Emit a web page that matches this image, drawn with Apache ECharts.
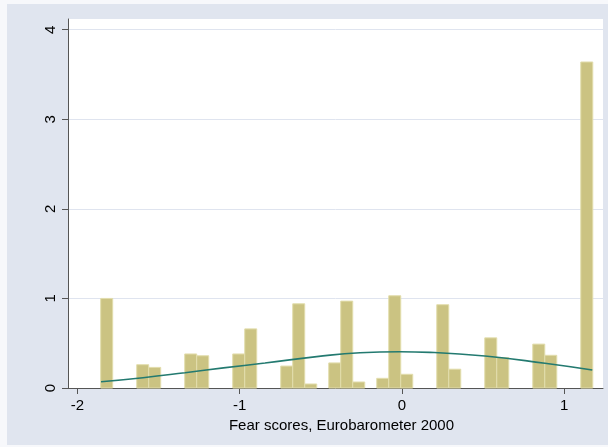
<!DOCTYPE html>
<html>
<head>
<meta charset="utf-8">
<script src="https://cdn.jsdelivr.net/npm/echarts@6/dist/echarts.min.js"></script>
<style>
  body { margin: 0; background: #f7f8fb; }
  #hist { position: absolute; left: 7px; top: 4px; width: 601px; height: 441px; }
</style>
</head>
<body>
<div id="hist"></div>
<script>
// histogram bins (centre of bin, density)
let binWidth = 0.074
let binCenters = [-1.820, -1.598, -1.524, -1.302, -1.228, -1.006, -0.932, -0.710, -0.636, -0.562,
    -0.414, -0.340, -0.266, -0.118, -0.044, 0.030, 0.252, 0.326, 0.548, 0.622, 0.844, 0.918, 1.140]
let densities = [1.00, 0.26, 0.23, 0.38, 0.36, 0.38, 0.66, 0.245, 0.94, 0.045,
    0.28, 0.97, 0.067, 0.108, 1.03, 0.153, 0.93, 0.21, 0.56, 0.34, 0.49, 0.365, 3.64]

// normal density overlay
let curveX = [-1.855, -1.596, -1.337, -1.1, -0.844, -0.525, -0.258, -0.012, 0.173, 0.512, 0.882, 1.174]
let curveY = [0.070, 0.115, 0.171, 0.225, 0.279, 0.350, 0.394, 0.405, 0.398, 0.357, 0.276, 0.201]

let xTicks = [-2, -1, 0, 1]
let yTicks = [0, 1, 2, 3, 4]

let barData = []
for (let i = 0; i < binCenters.length; i++) {
    barData.push([binCenters[i], densities[i]])
}
let lineData = []
for (let i = 0; i < curveX.length; i++) {
    lineData.push([curveX[i], curveY[i]])
}

let chart = echarts.init(document.querySelector('#hist'))
let font = 'Liberation Sans, Arial, Helvetica, sans-serif'
let option = {
    backgroundColor: '#e0e5ef',
    animation: false,
    grid: {
        left: 61, top: 15, right: 5, bottom: 57,
        show: true, backgroundColor: '#ffffff', borderWidth: 0
    },
    xAxis: {
        type: 'value',
        min: -2.0586,
        max: 1.24,
        name: 'Fear scores, Eurobarometer 2000',
        nameLocation: 'middle',
        nameGap: 29,
        nameTextStyle: { fontFamily: font, fontSize: 15, color: '#000', padding: [0, 0, 0, 12] },
        axisLine: { onZero: false, lineStyle: { color: '#555', width: 1 } },
        axisTick: { show: true, length: 6, customValues: xTicks, lineStyle: { color: '#555' } },
        axisLabel: { customValues: xTicks, fontFamily: font, fontSize: 15, color: '#000', margin: 10 },
        splitLine: { show: false }
    },
    yAxis: {
        type: 'value',
        min: 0,
        max: 4.12,
        interval: 1,
        axisLine: { show: true, onZero: false, lineStyle: { color: '#555', width: 1 } },
        axisTick: { show: true, length: 6, customValues: yTicks, lineStyle: { color: '#555' } },
        axisLabel: { customValues: yTicks, rotate: 90, fontFamily: font, fontSize: 15, color: '#000', margin: 10 },
        splitLine: { show: true, customValues: yTicks, lineStyle: { color: '#dfe4ef', width: 1 } }
    },
    series: [
        {
            type: 'custom',
            data: barData,
            renderItem: function (params, api) {
                let c = api.value(0)
                let h = api.value(1)
                let p0 = api.coord([c - binWidth / 2, h])
                let p1 = api.coord([c + binWidth / 2, 0])
                return {
                    type: 'rect',
                    shape: { x: p0[0], y: p0[1], width: p1[0] - p0[0], height: p1[1] - p0[1] },
                    style: { fill: '#cbc382', stroke: '#e2ddac', lineWidth: 1 }
                }
            },
            z: 2
        },
        {
            type: 'line',
            data: lineData,
            smooth: true,
            symbol: 'none',
            lineStyle: { color: '#237a70', width: 1.6 },
            z: 3
        }
    ]
}
chart.setOption(option)
</script>
</body>
</html>
